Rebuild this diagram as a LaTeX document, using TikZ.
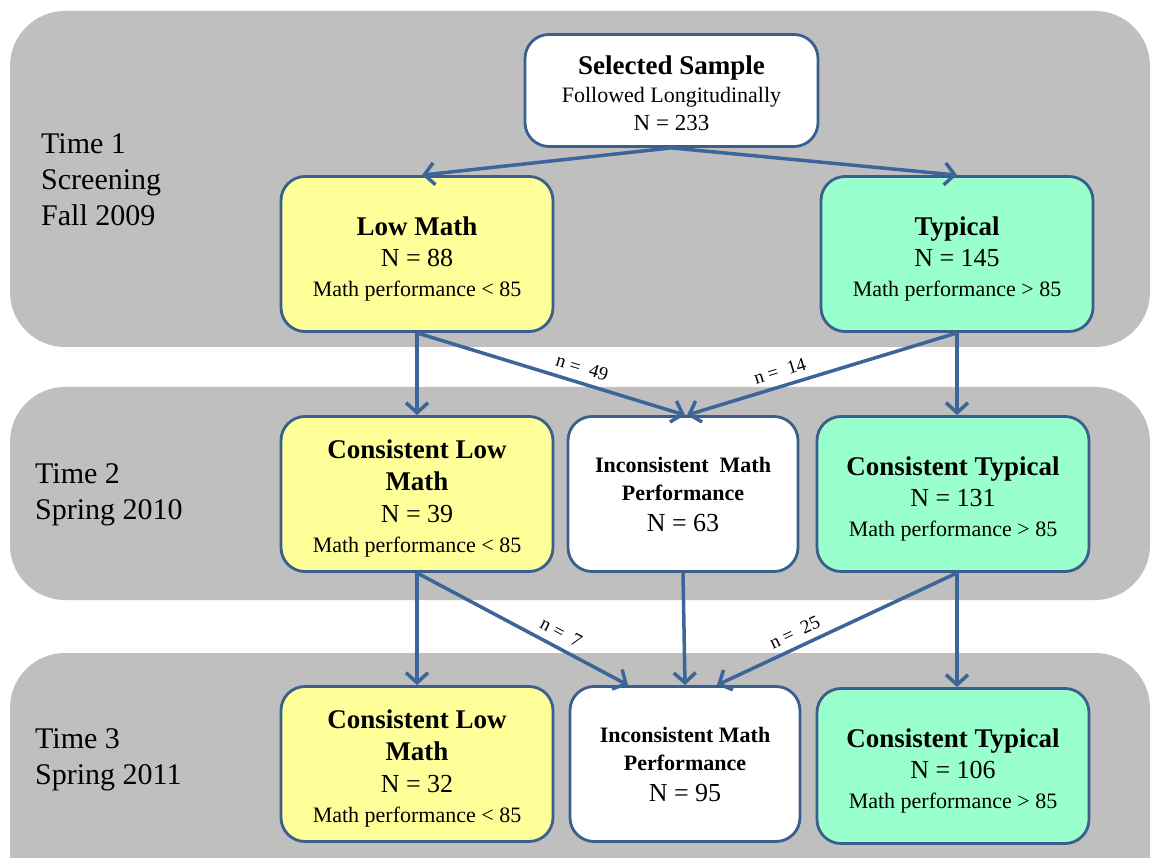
\documentclass[tikz,border=0pt]{standalone}
\usepackage{fontspec}
\setmainfont{Liberation Serif}
\usetikzlibrary{arrows.meta,calc}
\definecolor{bandgray}{HTML}{BFBFBF}
\definecolor{boxblue}{HTML}{3A5F8D}
\definecolor{arrblue}{HTML}{3C659A}
\definecolor{lowyellow}{HTML}{FFFF99}
\definecolor{typmint}{HTML}{99FFCC}
\newcommand\hb[1]{{\fontsize{27}{30}\selectfont\bfseries #1}}
\newcommand\nn[1]{{\fontsize{26}{30}\selectfont #1}}
\newcommand\sm[1]{{\fontsize{22}{30}\selectfont #1}}
\newcommand\ib[1]{{\fontsize{22}{30}\selectfont\bfseries #1}}
\newcommand\tstrut[1]{\rule{0pt}{#1}}
\tikzset{
  band/.style={fill=bandgray, draw=none, rounded corners=55pt},
  box/.style={draw=boxblue, line width=2.8pt, rounded corners=24pt, align=center,
    inner sep=0pt, font=\fontsize{22}{30}\selectfont},
  widebox/.style={box, minimum width=272pt, minimum height=155pt},
  midbox/.style={box, fill=white, minimum width=230pt, minimum height=155pt},
  lowbox/.style={widebox, fill=lowyellow},
  typbox/.style={widebox, fill=typmint},
  flow/.style={draw=arrblue, line width=3.5pt, -{Straight Barb[length=10pt,width=22pt]}},
  nlab/.style={font=\fontsize{19}{22}\selectfont, sloped, above, inner sep=7pt},
  timelab/.style={anchor=west, align=left, inner sep=0pt, font=\fontsize{30}{36}\selectfont}
}
\begin{document}
\begin{tikzpicture}[x=1pt,y=-1pt]
\useasboundingbox (0,0) rectangle (1151,858);
\begin{scope}
\clip (0,0) rectangle (1151,858);
\fill[band] (10,11) rectangle (1150,347);
\fill[band] (10,387) rectangle (1150,600);
\fill[band] (10,653) rectangle (1150,920);
\end{scope}

\node[timelab] (t1) at (41,180) {Time 1\\Screening\\Fall 2009};
\node[timelab] (t2) at (35,495) {Time 2\\Spring 2010};
\node[timelab] (t3) at (35,760) {Time 3\\Spring 2011};

\node[box, fill=white, minimum width=293pt, minimum height=112pt,
  font=\fontsize{22}{28}\selectfont] (ss) at (671.5,90.5)
  {\tstrut{23.5pt}\hb{Selected Sample}\\ \sm{Followed Longitudinally}\\ {\fontsize{23}{28}\selectfont N = 233}};

\node[lowbox] (lm) at (417,254) {\tstrut{28pt}\hb{Low Math}\\[1pt] \nn{N = 88}\\ \sm{Math performance < 85}};
\node[typbox] (ty) at (957,254) {\tstrut{28pt}\hb{Typical}\\[1pt] \nn{N = 145}\\ \sm{Math performance > 85}};

\node[lowbox] (clm2) at (417,494) {\tstrut{27pt}\hb{Consistent Low}\\[2pt] \hb{Math}\\[2pt] \nn{N = 39}\\ \sm{Math performance < 85}};
\node[midbox, font=\fontsize{22}{28}\selectfont] (inc2) at (683,494) {\tstrut{17pt}\ib{Inconsistent\ \ Math}\\ \ib{Performance}\\[3pt] \nn{N = 63}};
\node[typbox] (ct2) at (953,494) {\tstrut{28pt}\hb{Consistent Typical}\\[1pt] \nn{N = 131}\\ \sm{Math performance > 85}};

\node[lowbox] (clm3) at (417,764) {\tstrut{27pt}\hb{Consistent Low}\\[2pt] \hb{Math}\\[2pt] \nn{N = 32}\\ \sm{Math performance < 85}};
\node[midbox, font=\fontsize{22}{28}\selectfont] (inc3) at (685,764) {\tstrut{17pt}\ib{Inconsistent Math}\\ \ib{Performance}\\[3pt] \nn{N = 95}};
\node[typbox] (ct3) at (953,766) {\tstrut{28pt}\hb{Consistent Typical}\\[1pt] \nn{N = 106}\\ \sm{Math performance > 85}};

\draw[flow] (ss.south) -- ($(lm.north)+(5,0)$);
\draw[flow] (ss.south) -- (ty.north);

\draw[flow] (lm.south) -- (lm.south |- clm2.north);
\draw[flow] (lm.south) -- node[nlab, pos=0.6] {n =\ \ 49} ($(inc2.north)+(2,0)$);
\draw[flow] (ty.south) -- node[nlab, pos=0.64] {n =\ \ 14} ($(inc2.north)+(4,0)$);
\draw[flow] (ty.south) -- (ty.south |- ct2.north);

\draw[flow] (clm2.south) -- (clm2.south |- clm3.north);
\draw[flow] (clm2.south) -- node[nlab, pos=0.65] {n =\ \ 7} ($(inc3.north)+(-57,0)$);
\draw[flow] (inc2.south) -- (inc3.north);
\draw[flow] (ty.south |- ct2.south) -- node[nlab, pos=0.65] {n =\ \ 25} ($(inc3.north)+(32,0)$);
\draw[flow] (ty.south |- ct2.south) -- (ty.south |- ct3.north);
\end{tikzpicture}
\end{document}
